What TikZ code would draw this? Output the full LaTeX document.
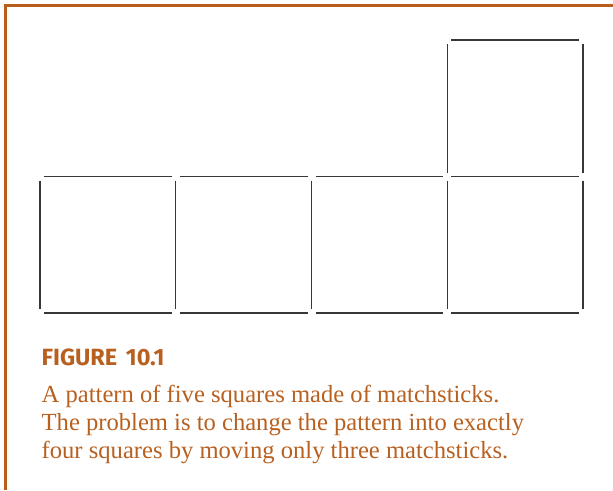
\documentclass[tikz,border=0pt]{standalone}
\usepackage{fontspec}
\setmainfont{Liberation Serif}
\newfontfamily\capfont[FakeStretch=1.0]{Fira Sans Bold}
\definecolor{frameorange}{RGB}{185,94,26}
\definecolor{textorange}{RGB}{184,96,32}
\definecolor{stickgray}{RGB}{55,55,55}
\begin{document}
\begin{tikzpicture}[x=1pt,y=-1pt,
  stick/.style={draw=stickgray,line width=1.25pt},
  framestyle/.style={draw=frameorange,line width=2.4pt},
  captitle/.style={inner sep=0pt,anchor=base west,text=textorange,font=\capfont\fontsize{23.5}{25}\selectfont},
  capline/.style={inner sep=0pt,anchor=base west,text=textorange,font=\fontsize{24.6}{28}\selectfont}]
\useasboundingbox (0,0) rectangle (613,490);
% frame (top and left only)
\draw[framestyle] (5.5,490) -- (5.5,5.5) -- (613,5.5);
% grid coordinates
\def\xa{40}\def\xb{175.7}\def\xc{311.7}\def\xd{447.3}\def\xe{583}
\def\ya{40}\def\yb{176.6}\def\yc{313}
% horizontal sticks
\foreach \l/\r in {\xa/\xb,\xb/\xc,\xc/\xd,\xd/\xe}{
  \draw[stick] (\l+4,\yc) -- (\r-4,\yc);
  \draw[stick] (\l+4,\yb) -- (\r-4,\yb);
}
\draw[stick] (\xd+4,\ya) -- (\xe-4,\ya);
% vertical sticks
\foreach \x in {\xa,\xb,\xc,\xd,\xe}{
  \draw[stick] (\x,\yb+4) -- (\x,\yc-4);
}
\foreach \x in {\xd,\xe}{
  \draw[stick] (\x,\ya+4) -- (\x,\yb-4);
}
% caption
\node[captitle] (title) at (41.5,365.2) {FIGURE\hspace{3pt} 10.1};
\node[capline] (l1) at (41.5,402.3) {A pattern of five squares made of matchsticks.};
\node[capline] (l2) at (41.5,430.1) {The problem is to change the pattern into exactly};
\node[capline] (l3) at (41.5,458) {four squares by moving only three matchsticks.};
\end{tikzpicture}
\end{document}
